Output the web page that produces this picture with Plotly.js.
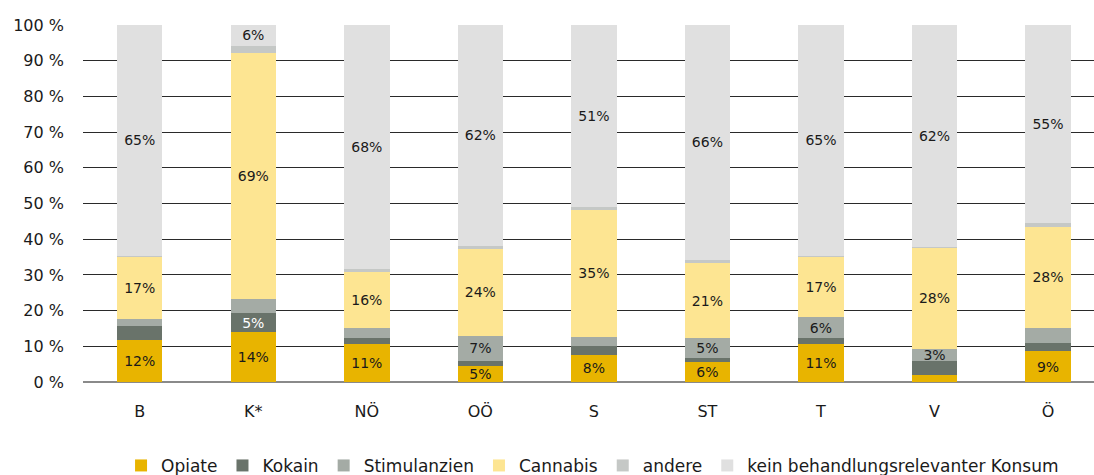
<!DOCTYPE html>
<html>
<head>
<meta charset="utf-8">
<script src="https://cdn.plot.ly/plotly-3.0.1.min.js"></script>
<style>html,body{margin:0;padding:0;background:#fff;}#chart{width:1094px;height:475px;}</style>
</head>
<body>
<div id="chart"></div>
<script>
const categories = ["B", "K*", "NÖ", "OÖ", "S", "ST", "T", "V", "Ö"];

const opiate       = [11.8, 13.9, 10.7, 4.6, 7.6, 5.6, 10.6, 1.9, 8.6];
const kokain       = [3.9, 5.4, 1.6, 1.4, 2.5, 1.2, 1.6, 4.0, 2.3];
const stimulanzien = [1.9, 3.9, 2.8, 6.9, 2.5, 5.5, 5.9, 3.3, 4.2];
const cannabis     = [17.4, 68.9, 15.7, 24.4, 35.6, 20.9, 16.8, 28.4, 28.4];
const andere       = [0.4, 2.1, 0.9, 0.8, 0.8, 1.0, 0.4, 0.2, 1.1];
const kein         = [64.6, 5.8, 68.3, 61.9, 51.0, 65.8, 64.7, 62.2, 55.4];

const opiateLabels       = ["12%", "14%", "11%", "5%", "8%", "6%", "11%", "", "9%"];
const kokainLabels       = ["", "5%", "", "", "", "", "", "", ""];
const stimulanzienLabels = ["", "", "", "7%", "", "5%", "6%", "3%", ""];
const cannabisLabels     = ["17%", "69%", "16%", "24%", "35%", "21%", "17%", "28%", "28%"];
const andereLabels       = ["", "", "", "", "", "", "", "", ""];
const keinLabels         = ["65%", "6%", "68%", "62%", "51%", "66%", "65%", "62%", "55%"];

const yTickValues = [0, 10, 20, 30, 40, 50, 60, 70, 80, 90, 100];
const yTickLabels = ["0 %", "10 %", "20 %", "30 %", "40 %", "50 %", "60 %", "70 %", "80 %", "90 %", "100 %"];

const seriesNames = ["Opiate", "Kokain", "Stimulanzien", "Cannabis", "andere", "kein behandlungsrelevanter Konsum"];
const seriesColors = ["#E8B400", "#69736A", "#A4ABA5", "#FDE592", "#C5C8C6", "#E0E0E0"];
const seriesValues = [opiate, kokain, stimulanzien, cannabis, andere, kein];
const seriesLabels = [opiateLabels, kokainLabels, stimulanzienLabels, cannabisLabels, andereLabels, keinLabels];
const labelColors = ["#1a1a1a", "#ffffff", "#1a1a1a", "#1a1a1a", "#1a1a1a", "#1a1a1a"];

const fontFam = "DejaVu Sans, sans-serif";

const traces = seriesNames.map((name, i) => ({
  type: "bar",
  name: name,
  x: categories,
  y: seriesValues[i],
  text: seriesLabels[i],
  texttemplate: "%{text}",
  textposition: "inside",
  insidetextanchor: "middle",
  textangle: 0,
  constraintext: "none",
  textfont: {family: fontFam, size: 14, color: labelColors[i]},
  marker: {color: seriesColors[i], line: {width: 0}},
  hoverinfo: "skip"
}));

const layout = {
  width: 1094,
  height: 475,
  barmode: "stack",
  bargap: 0.6,
  margin: {l: 83, r: 0, t: 25, b: 93, autoexpand: false},
  paper_bgcolor: "#ffffff",
  plot_bgcolor: "#ffffff",
  font: {family: fontFam, size: 16, color: "#1a1a1a"},
  uniformtext: {mode: "show", minsize: 14},
  showlegend: true,
  legend: {
    orientation: "h",
    x: 0.504, xanchor: "center",
    y: -0.235, yanchor: "middle",
    font: {family: fontFam, size: 17, color: "#1a1a1a"},
    itemwidth: 30,
    tracegroupgap: 0,
    traceorder: "normal"
  },
  xaxis: {
    type: "category",
    range: [-0.5, 8.405],
    showgrid: false,
    zeroline: false,
    showline: false,
    ticks: "",
    ticklabelstandoff: 18,
    tickfont: {family: fontFam, size: 16, color: "#1a1a1a"},
    fixedrange: true
  },
  yaxis: {
    range: [0, 100],
    tickmode: "array",
    tickvals: yTickValues,
    ticktext: yTickLabels,
    showgrid: true,
    gridcolor: "#2a2a2a",
    gridwidth: 1,
    zeroline: true,
    zerolinecolor: "#8a8a8a",
    zerolinewidth: 2,
    showline: false,
    ticks: "",
    ticklabelstandoff: 18,
    tickfont: {family: fontFam, size: 16, color: "#1a1a1a"},
    fixedrange: true
  }
};

Plotly.newPlot("chart", traces, layout, {displayModeBar: false, staticPlot: true});
</script>
</body>
</html>
